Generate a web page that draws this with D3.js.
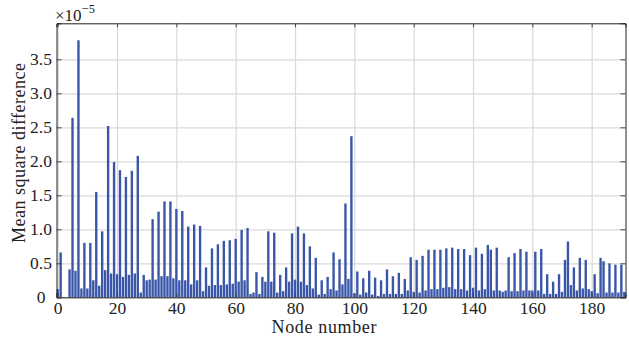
<!DOCTYPE html>
<html>
<head>
<meta charset="utf-8">
<script src="https://cdn.jsdelivr.net/npm/d3@7/dist/d3.min.js"></script>
<style>
  body { margin: 0; background: #fff; }
  text { font-family: "Liberation Serif", "DejaVu Serif", serif; fill: #222; }
</style>
</head>
<body>
<svg id="chart" width="629" height="337"></svg>
<script>
// mean square difference per node, in units of 1e-5
const msd = [
  0.12, 0.66, 0, 0, 0.41, 2.64, 0.39, 3.78, 0.13, 0.80,
  0.13, 0.80, 0.25, 1.55, 0.17, 0.97, 0.40, 2.52, 0.35, 1.99,
  0.34, 1.87, 0.30, 1.77, 0.33, 1.86, 0.35, 2.08, 0.07, 0.33,
  0.25, 0.26, 1.15, 0.26, 1.26, 0.31, 1.41, 0.31, 1.41, 0.28,
  1.30, 0.25, 1.27, 0.25, 1.04, 0.19, 1.07, 0.25, 1.05, 0.09,
  0.44, 0.17, 0.72, 0.18, 0.78, 0.18, 0.83, 0.19, 0.84, 0.20,
  0.86, 0.23, 0.99, 0.25, 1.02, 0.05, 0.07, 0.37, 0.05, 0.30,
  0.23, 0.97, 0.23, 0.95, 0.07, 0.33, 0.09, 0.44, 0.23, 0.94,
  0.26, 1.04, 0.23, 0.94, 0.18, 0.75, 0.13, 0.58, 0.04, 0.25,
  0.05, 0.30, 0.12, 0.66, 0.10, 0.56, 0.19, 1.38, 0.27, 2.37,
  0.06, 0.38, 0.04, 0.28, 0.07, 0.39, 0.04, 0.29, 0.02, 0.25,
  0.05, 0.41, 0.05, 0.31, 0.05, 0.36, 0.05, 0.27, 0.10, 0.59,
  0.08, 0.55, 0.07, 0.61, 0.10, 0.70, 0.12, 0.70, 0.12, 0.70,
  0.14, 0.72, 0.15, 0.73, 0.12, 0.71, 0.12, 0.71, 0.10, 0.62,
  0.14, 0.73, 0.10, 0.64, 0.12, 0.77, 0.70, 0.10, 0.73, 0.10,
  0.08, 0.10, 0.59, 0.09, 0.65, 0.09, 0.71, 0.10, 0.67, 0.10,
  0.10, 0.67, 0.10, 0.71, 0.05, 0.34, 0.05, 0.23, 0.05, 0.34,
  0.08, 0.55, 0.82, 0.18, 0.44, 0.10, 0.58, 0.13, 0.55, 0.12,
  0.09, 0.34, 0.06, 0.58, 0.53, 0.07, 0.50, 0.07, 0.48, 0.07,
  0.48, 0.08
];
const nodes = msd.map((v, i) => i);
const xTicks = [0, 20, 40, 60, 80, 100, 120, 140, 160, 180];
const yTicks = [0, 0.5, 1.0, 1.5, 2.0, 2.5, 3.0, 3.5];

const svg = d3.select("#chart");
const plot = {left: 56.5, right: 625.5, top: 23.3, bottom: 297.3};
const barWidth = 0.8;

const x = d3.scaleLinear().domain([-0.4, nodes.length - 0.6]).range([plot.left, plot.right]);
const y = d3.scaleLinear().domain([0, 4.03]).range([plot.bottom, plot.top]);

const w = plot.right - plot.left;
const h = plot.bottom - plot.top;

// grid
const grid = svg.append("g");
grid.append("g")
  .attr("transform", `translate(0,${plot.bottom})`)
  .call(d3.axisBottom(x).tickValues(xTicks).tickSize(-h).tickFormat(""))
  .call(g => g.select(".domain").remove());
grid.append("g")
  .attr("transform", `translate(${plot.left},0)`)
  .call(d3.axisLeft(y).tickValues(yTicks).tickSize(-w).tickFormat(""))
  .call(g => g.select(".domain").remove());
grid.selectAll("line").attr("stroke", "#d9d9d9").attr("stroke-width", 1.2);

// bars
svg.append("g").selectAll("rect")
  .data(nodes)
  .enter().append("rect")
  .attr("x", i => x(i - barWidth / 2))
  .attr("width", x(barWidth) - x(0))
  .attr("y", i => y(msd[i]))
  .attr("height", i => y(0) - y(msd[i]))
  .attr("fill", "#3a56a8");

// frame with inward ticks
const fmtY = d => d === 0 ? "0" : d.toFixed(1);

const bottomAxis = svg.append("g")
  .attr("transform", `translate(0,${plot.bottom})`)
  .call(d3.axisBottom(x).tickValues(xTicks).tickSize(-4).tickPadding(4).tickFormat(d3.format("d")));

const topAxis = svg.append("g")
  .attr("transform", `translate(0,${plot.top})`)
  .call(d3.axisTop(x).tickValues(xTicks).tickSize(-4).tickFormat(""));

const leftAxis = svg.append("g")
  .attr("transform", `translate(${plot.left},0)`)
  .call(d3.axisLeft(y).tickValues(yTicks).tickSize(-5).tickFormat(fmtY));

const rightAxis = svg.append("g")
  .attr("transform", `translate(${plot.right},0)`)
  .call(d3.axisRight(y).tickValues(yTicks).tickSize(-5).tickFormat(""));

[bottomAxis, topAxis, leftAxis, rightAxis].forEach(a => {
  a.selectAll(".domain").attr("stroke", "#222").attr("stroke-width", 1);
  a.selectAll(".tick line").attr("stroke", "#444").attr("stroke-width", 1);
  a.selectAll("text").style("font-size", "17.5px").attr("fill", "#222");
});

leftAxis.selectAll(".tick text")
  .attr("text-anchor", "middle")
  .attr("x", 41 - plot.left);

// exponent note
const expo = svg.append("text")
  .attr("x", 55)
  .attr("y", 21)
  .style("font-size", "17px");
expo.append("tspan").text("×10");
expo.append("tspan").attr("dy", -8).style("font-size", "12.5px").text("−5");

// axis titles
svg.append("text")
  .attr("x", 324)
  .attr("y", 333)
  .attr("text-anchor", "middle")
  .attr("textLength", 105)
  .attr("lengthAdjust", "spacing")
  .style("font-size", "18px")
  .text("Node number");

svg.append("text")
  .attr("transform", "translate(25,153) rotate(-90)")
  .attr("text-anchor", "middle")
  .attr("textLength", 180)
  .attr("lengthAdjust", "spacing")
  .style("font-size", "18px")
  .text("Mean square difference");
</script>
</body>
</html>
